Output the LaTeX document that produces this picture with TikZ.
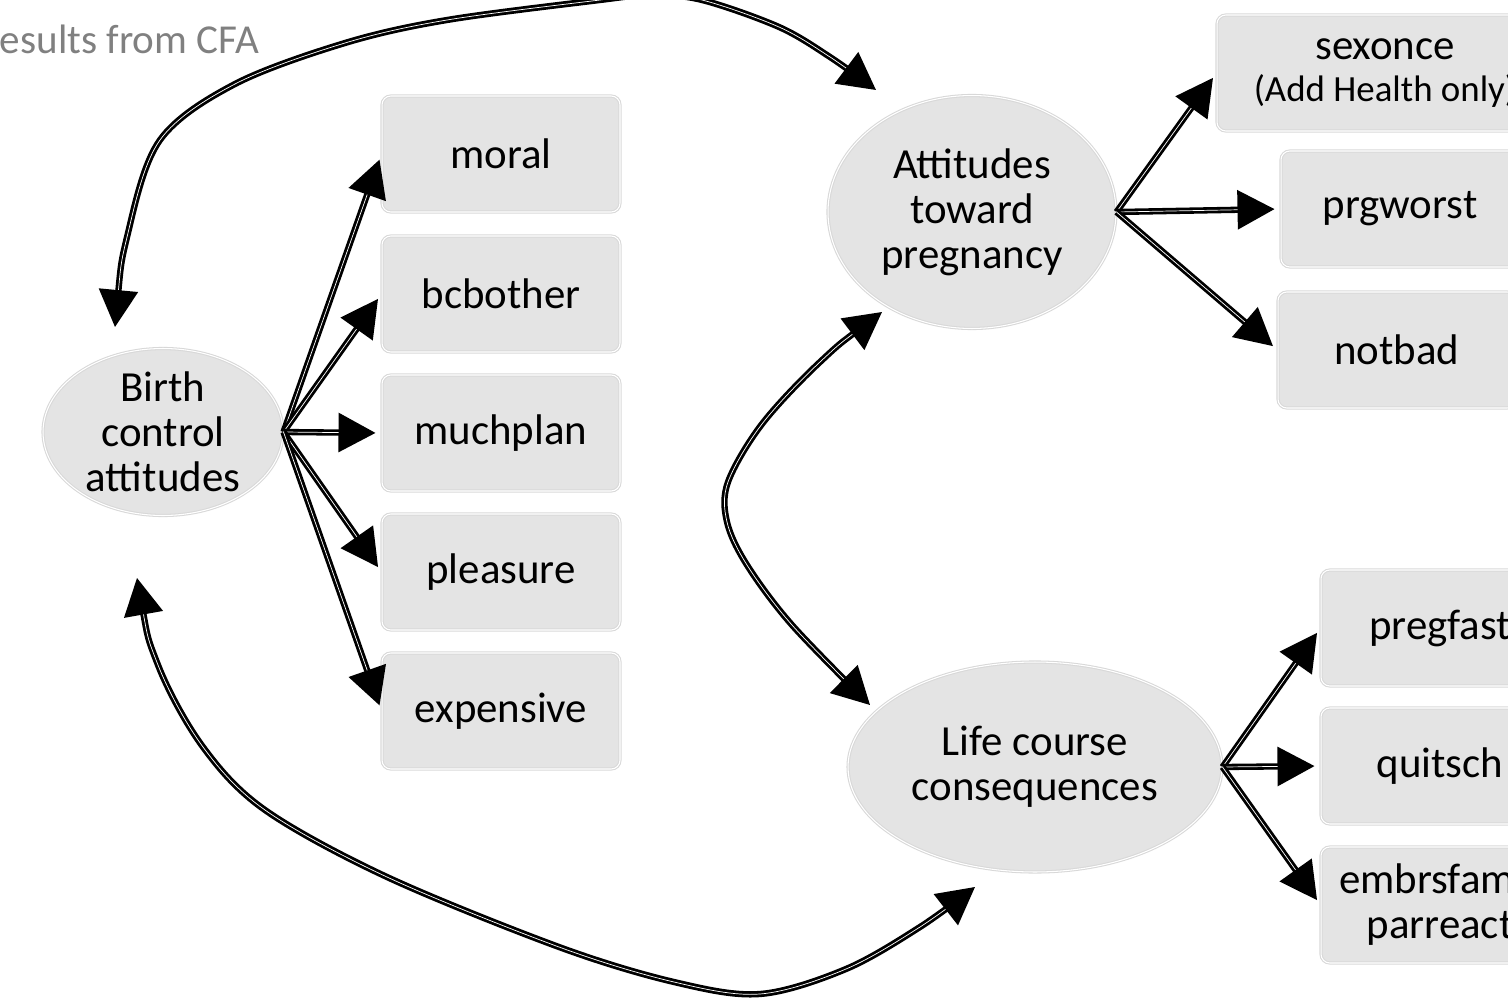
\documentclass[tikz,border=0pt]{standalone}
\usepackage{fontspec}
\setmainfont{Carlito}
\usepackage{tikz}
\usetikzlibrary{arrows.meta,shapes.geometric}

\definecolor{latfill}{RGB}{228,228,228}
\definecolor{latline}{RGB}{216,216,216}
\definecolor{notegray}{RGB}{128,128,128}

\tikzset{
  item/.style={rectangle, rounded corners=5pt, fill=latfill, draw=latline, double=white,
    double distance=0.6pt, line width=0.6pt, minimum width=4.76cm, minimum height=2.32cm,
    inner sep=0pt, align=center, font=\fontsize{24.4}{25.6}\selectfont},
  factor/.style={ellipse, fill=latfill, draw=latline, double=white, double distance=0.6pt,
    line width=0.6pt, inner sep=0pt},
  factortext/.style={inner sep=0pt, align=center, font=\fontsize{24.4}{25.6}\selectfont},
  note/.style={inner sep=0pt, text=notegray, font=\fontsize{23.4}{25}\selectfont},
  load/.style={draw=black, double=white, line width=1.6pt, double distance=0.4pt,
    -{Triangle[length=0.74cm,width=0.78cm]}, shorten >=0.12cm},
  cov/.style={draw=black, double=white, line width=1.6pt, double distance=0.4pt,
    {Triangle[length=0.74cm,width=0.78cm]}-{Triangle[length=0.74cm,width=0.78cm]}}
}

\begin{document}
\begin{tikzpicture}[x=0.02cm, y=-0.02cm]
\useasboundingbox (0,0) rectangle (1508,1007);
\clip (0,0) rectangle (1508,1007);

\node[note, anchor=base west] (title) at (-22,54) {Results from CFA};
\node[note, anchor=base west] (foot) at (-12,1037) {Standardized loadings};

% latent factors
\node[factor, minimum width=4.8cm, minimum height=3.34cm] (birth) at (163,432) {};
\node[factortext] (birthtext) at (birth) {Birth\\control\\attitudes};
\node[factor, minimum width=5.76cm, minimum height=4.66cm] (att) at (972,212) {};
\node[factortext] (atttext) at (att) {Attitudes\\toward\\pregnancy};
\node[factor, minimum width=7.48cm, minimum height=4.2cm] (life) at (1035,767) {};
\node[factortext] (lifetext) at (life) {Life course\\consequences};

% indicators
\node[item] (moral) at (501,154) {moral};
\node[item] (bcbother) at (501,294) {bcbother};
\node[item] (muchplan) at (501,433) {muchplan};
\node[item] (pleasure) at (501,572) {pleasure};
\node[item] (expensive) at (501,711) {expensive};

\node[item, minimum width=6.72cm] (sexonce) at (1385,73)
  {sexonce\\[-2pt]{\fontsize{21}{22}\selectfont (Add Health only)}};
\node[item] (prgworst) at (1400,209) {prgworst};
\node[item] (notbad) at (1397,350) {notbad};

\node[item] (pregfast) at (1440,628) {pregfast};
\node[item] (quitsch) at (1440,766) {quitsch};
\node[item] (embrsfam) at (1440,905) {embrsfam /\\parreact};

\draw[load] (birth.east) -- (moral.west);
\draw[load] (birth.east) -- (bcbother.west);
\draw[load] (birth.east) -- (muchplan.west);
\draw[load] (birth.east) -- (pleasure.west);
\draw[load] (birth.east) -- (expensive.west);

\draw[load] (att.east) -- (sexonce.west);
\draw[load] (att.east) -- (prgworst.west);
\draw[load] (att.east) -- (notbad.west);

\draw[load] (life.east) -- (pregfast.west);
\draw[load] (life.east) -- (quitsch.west);
\draw[load] (life.east) -- (embrsfam.west);

% correlations
\coordinate (birthtop) at (115,327);
\coordinate (birthbot) at (137,578);
\coordinate (atttop) at (876,90);
\coordinate (attbot) at (882,312);
\coordinate (lifetop) at (870,705);
\coordinate (lifebot) at (975,887);

\draw[cov] plot[smooth, tension=0.55] coordinates {(birthtop) (128,233) (160,140) (235,84)
  (345,43) (447,20) (600,0) (650,-5) (702,0) (779,27) (830,57) (atttop)};
\draw[cov] plot[smooth, tension=0.55] coordinates {(attbot) (820,362) (762,424) (728,482)
  (727,522) (747,565) (792,625) (lifetop)};
\draw[cov] plot[smooth, tension=0.55] coordinates {(birthbot) (158,665) (203,747)
  (265,810) (387,877) (559,947) (674,982) (760,994) (846,969) (920,927) (lifebot)};

\end{tikzpicture}
\end{document}
